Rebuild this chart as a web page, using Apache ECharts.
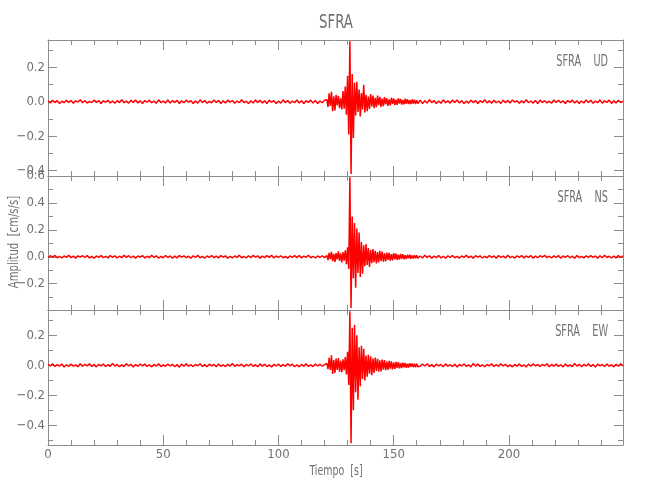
<!DOCTYPE html>
<html>
<head>
<meta charset="utf-8">
<script src="https://cdn.jsdelivr.net/npm/echarts@6/dist/echarts.min.js"></script>
<style>
html,body{margin:0;padding:0;background:#fff;}
#chart{width:650px;height:500px;}
</style>
</head>
<body>
<div id="chart"></div>
<script>
// ---- sampling of the traces (seconds) ----
const PRE_START = 0, PRE_STEP = 1;
const EVT_START = 121, EVT_STEP = 0.5;
const POST_START = 161.5, POST_STEP = 1;
const T_MIN = 0, T_MAX = 249.5;
const X_TICKS = [0, 50, 100, 150, 200];

// ---- UD component (cm/s/s) ----
const udPre = [0.004,-0.007,0.009,-0.005,0.006,-0.010,0.003,-0.006,0.008,-0.004,
0.007,-0.009,0.005,-0.002,0.011,-0.006,0.006,-0.008,0.002,-0.005,
0.009,-0.004,0.007,-0.011,0.005,-0.003,0.008,-0.007,0.004,-0.009,
0.006,-0.005,0.012,-0.006,0.003,-0.008,0.008,-0.004,0.010,-0.007,
0.005,-0.010,0.007,-0.003,0.009,-0.006,0.004,-0.009,0.011,-0.005,
0.003,-0.007,0.010,-0.008,0.006,-0.004,0.008,-0.011,0.005,-0.006,
0.009,-0.003,0.006,-0.010,0.004,-0.008,0.011,-0.005,0.007,-0.009,
0.002,-0.006,0.010,-0.004,0.008,-0.010,0.005,-0.007,0.009,-0.003,
0.007,-0.009,0.004,-0.006,0.012,-0.005,0.003,-0.010,0.006,-0.008,
0.010,-0.004,0.008,-0.007,0.005,-0.011,0.009,-0.003,0.006,-0.010,
0.004,-0.008,0.011,-0.005,0.007,-0.009,0.003,-0.006,0.010,-0.007,
0.006,-0.010,0.005,-0.004,0.009,-0.008,0.007,-0.011,0.004,-0.006,
0.008];
const udEvt = [0.012,-0.030,0.048,-0.025,0.058,-0.055,0.032,-0.050,0.040,-0.022,
0.034,-0.038,0.020,-0.045,0.062,-0.040,0.088,-0.075,0.150,-0.190,
0.350,-0.420,0.160,-0.210,0.110,-0.080,0.115,-0.060,0.070,-0.085,
0.050,-0.045,0.098,-0.062,0.040,-0.055,0.030,-0.042,0.045,-0.028,
0.036,-0.038,0.022,-0.032,0.035,-0.020,0.028,-0.030,0.018,-0.026,
0.027,-0.016,0.020,-0.024,0.014,-0.021,0.023,-0.013,0.019,-0.020,
0.012,-0.018,0.020,-0.011,0.016,-0.017,0.010,-0.015,0.017,-0.012,
0.014,-0.013,0.009,-0.014,0.013,-0.010,0.012,-0.013,0.009,-0.011];
const udPost = [0.009,-0.011,0.006,-0.008,0.012,-0.005,0.007,-0.010,0.004,-0.009,
0.011,-0.006,0.005,-0.008,0.009,-0.004,0.010,-0.007,0.006,-0.011,
0.003,-0.008,0.009,-0.005,0.007,-0.010,0.006,-0.004,0.011,-0.007,
0.005,-0.009,0.008,-0.006,0.004,-0.010,0.009,-0.005,0.007,-0.008,
0.010,-0.003,0.006,-0.009,0.005,-0.007,0.012,-0.006,0.004,-0.008,
0.007,-0.011,0.009,-0.004,0.006,-0.007,0.003,-0.009,0.010,-0.005,
0.008,-0.006,0.005,-0.010,0.007,-0.004,0.009,-0.008,0.006,-0.011,
0.004,-0.007,0.010,-0.005,0.008,-0.009,0.003,-0.006,0.011,-0.008,
0.005,-0.004,0.009,-0.010,0.006,-0.007,0.008,-0.005,0.004];

// ---- NS component ----
const nsPre = [-0.005,0.008,-0.003,0.010,-0.007,0.004,-0.009,0.006,-0.004,0.011,
-0.006,0.005,-0.010,0.007,-0.003,0.008,-0.005,0.009,-0.008,0.004,
-0.011,0.006,-0.004,0.009,-0.006,0.003,-0.008,0.010,-0.005,0.007,
-0.009,0.004,-0.006,0.012,-0.004,0.008,-0.007,0.005,-0.010,0.006,
-0.003,0.009,-0.008,0.004,-0.006,0.011,-0.005,0.007,-0.009,0.003,
-0.007,0.010,-0.004,0.006,-0.011,0.005,-0.008,0.009,-0.003,0.007,
-0.006,0.004,-0.010,0.008,-0.005,0.011,-0.007,0.003,-0.009,0.006,
-0.004,0.010,-0.006,0.005,-0.008,0.009,-0.003,0.007,-0.011,0.004,
-0.008,0.006,-0.005,0.012,-0.007,0.004,-0.009,0.008,-0.006,0.010,
-0.003,0.007,-0.010,0.005,-0.006,0.009,-0.004,0.011,-0.008,0.006,
-0.005,0.008,-0.007,0.003,-0.010,0.006,-0.004,0.009,-0.006,0.010,
-0.008,0.005,-0.003,0.011,-0.007,0.004,-0.009,0.006,-0.005,0.008,
-0.006];
const nsEvt = [0.010,-0.024,0.030,-0.018,0.036,-0.032,0.022,-0.038,0.028,-0.020,
0.040,-0.030,0.025,-0.042,0.035,-0.028,0.048,-0.055,0.070,-0.090,
0.590,-0.380,0.300,-0.160,0.250,-0.230,0.210,-0.120,0.180,-0.150,
0.110,-0.125,0.085,-0.070,0.095,-0.060,0.065,-0.075,0.050,-0.048,
0.058,-0.040,0.045,-0.050,0.035,-0.042,0.044,-0.030,0.038,-0.036,
0.026,-0.034,0.032,-0.022,0.030,-0.028,0.020,-0.026,0.027,-0.018,
0.024,-0.022,0.015,-0.021,0.022,-0.014,0.019,-0.018,0.012,-0.017,
0.016,-0.011,0.015,-0.014,0.010,-0.013,0.012,-0.010,0.011,-0.010];
const nsPost = [0.006,-0.009,0.011,-0.004,0.007,-0.010,0.005,-0.006,0.009,-0.008,
0.004,-0.011,0.008,-0.005,0.010,-0.007,0.003,-0.009,0.006,-0.004,
0.012,-0.006,0.005,-0.010,0.008,-0.003,0.007,-0.009,0.004,-0.007,
0.010,-0.005,0.006,-0.011,0.009,-0.004,0.005,-0.008,0.011,-0.006,
0.003,-0.009,0.007,-0.005,0.010,-0.008,0.006,-0.004,0.009,-0.010,
0.005,-0.007,0.008,-0.003,0.011,-0.006,0.004,-0.009,0.007,-0.005,
0.009,-0.010,0.006,-0.004,0.008,-0.007,0.005,-0.011,0.010,-0.006,
0.003,-0.008,0.007,-0.005,0.009,-0.004,0.006,-0.010,0.008,-0.007,
0.011,-0.005,0.004,-0.009,0.006,-0.008,0.010,-0.004,0.007];

// ---- EW component ----
const ewPre = [0.007,-0.004,0.010,-0.008,0.005,-0.006,0.009,-0.011,0.004,-0.007,
0.008,-0.005,0.003,-0.009,0.011,-0.006,0.006,-0.004,0.010,-0.008,
0.005,-0.010,0.007,-0.003,0.009,-0.007,0.004,-0.006,0.012,-0.005,
0.006,-0.009,0.003,-0.008,0.010,-0.004,0.007,-0.011,0.005,-0.006,
0.009,-0.003,0.008,-0.007,0.004,-0.010,0.006,-0.005,0.011,-0.008,
0.003,-0.006,0.009,-0.004,0.007,-0.009,0.005,-0.012,0.008,-0.006,
0.010,-0.005,0.004,-0.008,0.006,-0.003,0.011,-0.007,0.005,-0.009,
0.008,-0.004,0.006,-0.010,0.009,-0.006,0.003,-0.008,0.007,-0.005,
0.012,-0.007,0.005,-0.004,0.008,-0.010,0.006,-0.003,0.009,-0.006,
0.004,-0.009,0.010,-0.005,0.007,-0.008,0.003,-0.011,0.006,-0.004,
0.009,-0.007,0.005,-0.006,0.011,-0.003,0.008,-0.009,0.004,-0.010,
0.006,-0.005,0.010,-0.007,0.003,-0.008,0.009,-0.004,0.007,-0.006,
0.005];
const ewEvt = [0.012,-0.025,0.050,-0.030,0.067,-0.058,0.035,-0.050,0.045,-0.030,
0.048,-0.042,0.030,-0.045,0.040,-0.032,0.055,-0.060,0.090,-0.130,
0.360,-0.520,0.250,-0.300,0.270,-0.180,0.200,-0.230,0.120,-0.140,
0.130,-0.090,0.110,-0.100,0.065,-0.075,0.070,-0.055,0.060,-0.065,
0.045,-0.050,0.052,-0.038,0.044,-0.042,0.034,-0.040,0.038,-0.028,
0.035,-0.032,0.025,-0.030,0.030,-0.022,0.026,-0.027,0.019,-0.024,
0.023,-0.017,0.021,-0.020,0.014,-0.019,0.018,-0.013,0.016,-0.016,
0.011,-0.015,0.014,-0.010,0.013,-0.012,0.010,-0.012,0.011,-0.009];
const ewPost = [-0.006,0.009,-0.004,0.011,-0.007,0.005,-0.010,0.008,-0.003,0.006,
-0.009,0.010,-0.005,0.004,-0.008,0.007,-0.011,0.006,-0.004,0.009,
-0.006,0.003,-0.010,0.012,-0.005,0.008,-0.007,0.004,-0.009,0.006,
-0.003,0.010,-0.008,0.005,-0.006,0.011,-0.004,0.007,-0.009,0.003,
-0.010,0.006,-0.005,0.009,-0.007,0.004,-0.011,0.008,-0.006,0.010,
-0.004,0.005,-0.008,0.007,-0.003,0.011,-0.009,0.006,-0.005,0.008,
-0.007,0.004,-0.010,0.009,-0.006,0.003,-0.008,0.012,-0.005,0.007,
-0.009,0.006,-0.004,0.010,-0.007,0.005,-0.011,0.008,-0.003,0.006,
-0.008,0.009,-0.005,0.004,-0.010,0.007,-0.006,0.011,-0.004];

// ---- axis ranges and ticks ----
const udRange = [-0.431, 0.358], nsRange = [-0.395, 0.600], ewRange = [-0.531, 0.369];
const udMajor = [-0.4, -0.2, 0.0, 0.2], udMinor = [-0.3, -0.1, 0.1, 0.3];
const nsMajor = [-0.2, 0.0, 0.2, 0.4, 0.6], nsMinor = [-0.3, -0.1, 0.1, 0.3, 0.5];
const ewMajor = [-0.4, -0.2, 0.0, 0.2], ewMinor = [-0.5, -0.3, -0.1, 0.1, 0.3];
const STATION = 'SFRA';
const COMPONENTS = ['UD', 'NS', 'EW'];

// ---- styling / layout ----
const FONT = "'Liberation Sans Narrow','DejaVu Sans Condensed','Liberation Sans',sans-serif";
const TXT = '#707070';
const AXC = '#8c8c8c';
const GRID_LEFT = 48, GRID_RIGHT = 27;
const GRID_TOPS = [40, 176, 310], GRID_HEIGHTS = [136, 134, 135];

function buildPairs(pre, evt, post) {
  const out = [];
  pre.forEach((v, i) => out.push([PRE_START + i * PRE_STEP, v]));
  evt.forEach((v, i) => out.push([EVT_START + i * EVT_STEP, v]));
  post.forEach((v, i) => out.push([POST_START + i * POST_STEP, v]));
  return out;
}
const fmt = v => (v < -1e-9 ? '\u2212' : '') + Math.abs(v).toFixed(1);

const traces = [
  { data: buildPairs(udPre, udEvt, udPost), range: udRange, major: udMajor, minor: udMinor },
  { data: buildPairs(nsPre, nsEvt, nsPost), range: nsRange, major: nsMajor, minor: nsMinor },
  { data: buildPairs(ewPre, ewEvt, ewPost), range: ewRange, major: ewMajor, minor: ewMinor }
];

const grid = [], xAxis = [], yAxis = [], series = [];
const lineStyle = { color: AXC, width: 1 };
traces.forEach((tr, g) => {
  grid.push({ left: GRID_LEFT, right: GRID_RIGHT, top: GRID_TOPS[g], height: GRID_HEIGHTS[g], containLabel: false });
  ['bottom', 'top'].forEach(pos => {
    xAxis.push({
      type: 'value', gridIndex: g, position: pos, min: T_MIN, max: T_MAX, interval: 50,
      axisLine: { show: true, onZero: false, lineStyle }, splitLine: { show: false },
      axisTick: { show: true, inside: true, length: 10, lineStyle },
      minorTick: { show: true, splitNumber: 5, length: 5, lineStyle },
      axisLabel: { show: (g === 2 && pos === 'bottom'), color: TXT, fontFamily: FONT, fontSize: 13, margin: 3,
        customValues: X_TICKS }
    });
  });
  const firstY = yAxis.length;
  [['left', tr.major, 9, true], ['left', tr.minor, 5, false], ['right', tr.major, 9, false], ['right', tr.minor, 5, false]]
    .forEach(([pos, vals, len, lab], k) => {
      yAxis.push({
        type: 'value', gridIndex: g, position: pos, min: tr.range[0], max: tr.range[1],
        axisLine: { show: k === 0 || k === 2, onZero: false, lineStyle }, splitLine: { show: false },
        axisTick: { show: true, inside: true, length: len, lineStyle, customValues: vals },
        axisLabel: { show: lab, customValues: vals, formatter: fmt, color: TXT, fontFamily: FONT, fontSize: 13, margin: 3 }
      });
    });
  series.push({
    type: 'line', xAxisIndex: g * 2, yAxisIndex: firstY, data: tr.data,
    showSymbol: false, symbol: 'none', sampling: null, clip: false,
    lineStyle: { color: '#ff0000', width: 1.5 }, z: 1
  });
});

const gtext = [];
gtext.push({ type: 'text', x: 336, y: 23, scaleX: 0.78, style: { text: STATION, fill: TXT, font: '19px ' + FONT, align: 'center', verticalAlign: 'middle' } });
COMPONENTS.forEach((c, g) => {
  gtext.push({ type: 'text', x: 608, y: GRID_TOPS[g] + 22, scaleX: 0.72,
    style: { text: STATION + '    ' + c, fill: TXT, font: '15px ' + FONT, align: 'right', verticalAlign: 'middle' } });
});
gtext.push({ type: 'text', x: 14, y: 242, rotation: Math.PI / 2, scaleX: 0.8,
  style: { text: 'Amplitud  [cm/s/s]', fill: TXT, font: '14px ' + FONT, align: 'center', verticalAlign: 'middle' } });
gtext.push({ type: 'text', x: 336, y: 471, scaleX: 0.75,
  style: { text: 'Tiempo  [s]', fill: TXT, font: '14px ' + FONT, align: 'center', verticalAlign: 'middle' } });

const chart = echarts.init(document.getElementById('chart'), null, { renderer: 'canvas' });
chart.setOption({
  animation: false,
  backgroundColor: '#fff',
  grid, xAxis, yAxis, series,
  graphic: gtext
});
</script>
</body>
</html>
